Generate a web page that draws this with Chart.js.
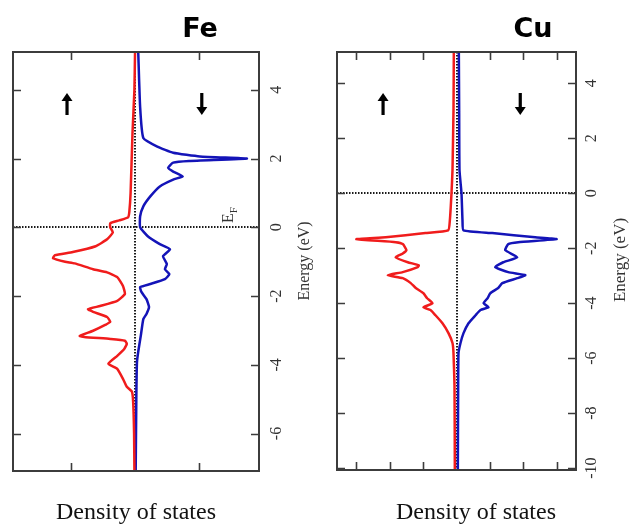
<!DOCTYPE html>
<html>
<head>
<meta charset="utf-8">
<script src="https://cdn.jsdelivr.net/npm/chart.js@4"></script>
<style>
  html, body { margin: 0; padding: 0; background: #ffffff; }
  #wrap { position: relative; width: 630px; height: 529px; overflow: hidden; }
  canvas { position: absolute; top: 0; }
  #fe { left: 0; }
  #cu { left: 320px; }
</style>
</head>
<body>
<div id="wrap">
  <canvas id="fe" width="320" height="529"></canvas>
  <canvas id="cu" width="310" height="529"></canvas>
</div>
<script>
// ---- Fe: spin-resolved density of states (magnitudes; spin-up drawn to the left) ----
const feUpEnergy = [5.1, 4.0, 2.75, 1.0, 0.45, 0.29, 0.2, 0.12, 0.0, -0.15, -0.35, -0.55, -0.72, -0.81, -0.9, -1.0, -1.05, -1.22, -1.31, -1.45, -1.71, -1.94, -2.14, -2.29, -2.38, -2.46, -2.61, -2.75, -2.84, -3.01, -3.16, -3.19, -3.25, -3.3, -3.39, -3.54, -3.74, -3.97, -4.12, -4.41, -4.64, -4.78, -5.07, -6.0, -7.09];
const feUpDos    = [0.0, 0.01, 0.04, 0.07, 0.09, 0.11, 0.25, 0.39, 0.39, 0.35, 0.44, 0.62, 0.98, 1.26, 1.29, 1.1, 0.95, 0.66, 0.44, 0.28, 0.19, 0.16, 0.28, 0.55, 0.74, 0.66, 0.44, 0.39, 0.47, 0.66, 0.87, 0.8, 0.39, 0.16, 0.13, 0.17, 0.28, 0.42, 0.28, 0.19, 0.13, 0.05, 0.03, 0.015, 0.01];

const feDownEnergy = [5.1, 3.5, 2.6, 2.35, 2.17, 2.06, 2.0, 1.93, 1.88, 1.73, 1.62, 1.48, 1.39, 1.19, 0.9, 0.61, 0.32, 0.0, -0.26, -0.49, -0.64, -0.84, -1.07, -1.22, -1.36, -1.51, -1.65, -1.74, -1.88, -2.09, -2.32, -2.52, -2.67, -3.16, -3.62, -3.93, -5.0, -7.09];
const feDownDos    = [0.05, 0.08, 0.13, 0.35, 0.6, 1.02, 1.76, 0.85, 0.6, 0.52, 0.6, 0.75, 0.6, 0.39, 0.24, 0.13, 0.08, 0.08, 0.2, 0.39, 0.55, 0.44, 0.5, 0.47, 0.54, 0.47, 0.24, 0.08, 0.1, 0.18, 0.22, 0.18, 0.13, 0.09, 0.05, 0.03, 0.02, 0.01];

// ---- Cu: spin-resolved density of states ----
const cuUpEnergy = [5.14, 3.0, 0.84, 0.0, -1.0, -1.35, -1.45, -1.6, -1.67, -1.78, -1.85, -2.07, -2.2, -2.33, -2.51, -2.62, -2.69, -2.87, -2.98, -3.09, -3.27, -3.45, -3.64, -3.82, -4.0, -4.15, -4.25, -4.44, -4.73, -5.09, -5.45, -5.82, -7.0, -10.07];
const cuUpDos    = [0.08, 0.09, 0.12, 0.15, 0.2, 0.25, 0.93, 2.12, 3.0, 1.82, 1.61, 1.5, 1.62, 1.82, 1.46, 1.13, 1.16, 1.61, 2.06, 1.61, 1.37, 1.22, 0.99, 0.88, 0.72, 0.99, 0.78, 0.63, 0.42, 0.24, 0.12, 0.09, 0.06, 0.05];

const cuDownEnergy = [5.14, 3.0, 0.84, 0.0, -1.0, -1.35, -1.45, -1.6, -1.67, -1.78, -1.85, -2.07, -2.33, -2.51, -2.69, -2.87, -2.98, -3.09, -3.27, -3.45, -3.64, -3.82, -4.0, -4.15, -4.25, -4.44, -4.73, -5.09, -5.45, -5.82, -7.0, -10.07];
const cuDownDos    = [0.07, 0.08, 0.09, 0.15, 0.18, 0.21, 1.07, 2.36, 3.0, 1.85, 1.55, 1.46, 1.82, 1.4, 1.16, 1.55, 2.06, 1.82, 1.37, 1.25, 1.01, 0.93, 0.81, 0.96, 0.72, 0.57, 0.36, 0.21, 0.12, 0.06, 0.05, 0.04];

// ---- tick values ----
const feEnergyTicks = [4, 2, 0, -2, -4, -6];
const feDosTicks = [-1, 1];
const cuEnergyTicks = [4, 2, 0, -2, -4, -6, -8, -10];
const cuDosTicks = [-3, -2, -1, 1, 2, 3];

const RED = '#f01c1c';
const BLUE = '#1414b8';
const FRAME = '#3c3c3c';
const SERIF = '"Liberation Serif", "Times New Roman", serif';

function curve(energy, dos, sign) {
  return energy.map((e, i) => ({ x: sign * dos[i], y: e }));
}

function drawArrow(ctx, x, yTop, yBot, up) {
  ctx.save();
  ctx.fillStyle = '#000';
  ctx.strokeStyle = '#000';
  ctx.lineWidth = 3.2;
  const head = 8;
  ctx.beginPath();
  if (up) {
    ctx.moveTo(x, yBot); ctx.lineTo(x, yTop + head - 1);
  } else {
    ctx.moveTo(x, yTop); ctx.lineTo(x, yBot - head + 1);
  }
  ctx.stroke();
  ctx.beginPath();
  if (up) {
    ctx.moveTo(x, yTop); ctx.lineTo(x - 5.5, yTop + head); ctx.lineTo(x + 5.5, yTop + head);
  } else {
    ctx.moveTo(x, yBot); ctx.lineTo(x - 5.5, yBot - head); ctx.lineTo(x + 5.5, yBot - head);
  }
  ctx.closePath();
  ctx.fill();
  ctx.restore();
}

// Frame, inward ticks, zero lines and labels for one panel
function panelDecor(cfg) {
  return {
    id: 'panelDecor',
    beforeDatasetsDraw(chart) {
      const { ctx, chartArea: a, scales } = chart;
      const xs = scales.x, ys = scales.y;
      ctx.save();
      ctx.strokeStyle = '#1a1a1a';
      ctx.lineWidth = 2;
      ctx.setLineDash([1.5, 1.5]);
      const y0 = Math.round(ys.getPixelForValue(0));
      const x0 = Math.round(xs.getPixelForValue(0));
      ctx.beginPath();
      ctx.moveTo(a.left, y0); ctx.lineTo(a.right, y0);
      ctx.moveTo(x0, a.top); ctx.lineTo(x0, a.bottom);
      ctx.stroke();
      ctx.restore();
    },
    afterDatasetsDraw(chart) {
      const { ctx, chartArea: a, scales } = chart;
      const xs = scales.x, ys = scales.y;
      ctx.save();
      // frame
      ctx.strokeStyle = FRAME;
      ctx.lineWidth = 2;
      ctx.strokeRect(a.left, a.top, a.right - a.left, a.bottom - a.top);
      // energy ticks on both sides, DOS ticks top and bottom
      ctx.lineWidth = 1.6;
      ctx.beginPath();
      cfg.energyTicks.forEach(v => {
        const y = Math.round(ys.getPixelForValue(v)) + 0.5;
        ctx.moveTo(a.left, y); ctx.lineTo(a.left + 8, y);
        ctx.moveTo(a.right, y); ctx.lineTo(a.right - 8, y);
      });
      cfg.dosTicks.forEach(v => {
        const x = Math.round(xs.getPixelForValue(v)) + 0.5;
        ctx.moveTo(x, a.top); ctx.lineTo(x, a.top + 8);
        ctx.moveTo(x, a.bottom); ctx.lineTo(x, a.bottom - 8);
      });
      ctx.stroke();

      // rotated energy tick labels
      ctx.fillStyle = '#333';
      ctx.font = '16px ' + SERIF;
      ctx.textAlign = 'center';
      ctx.textBaseline = 'middle';
      cfg.energyTicks.forEach(v => {
        const y = ys.getPixelForValue(v);
        ctx.save();
        ctx.translate(a.right + cfg.labelGap, y);
        ctx.rotate(-Math.PI / 2);
        ctx.fillText(String(v), 0, 0);
        ctx.restore();
      });

      // axis title
      ctx.save();
      ctx.font = cfg.titleSize + 'px ' + SERIF;
      ctx.translate(cfg.energyTitleX, cfg.energyTitleY);
      ctx.rotate(-Math.PI / 2);
      ctx.fillText('Energy (eV)', 0, 0);
      ctx.restore();

      // bottom label
      ctx.fillStyle = '#111';
      ctx.font = '24px ' + SERIF;
      ctx.textBaseline = 'alphabetic';
      ctx.fillText('Density of states', cfg.dosTitleX, 519);

      // panel title
      ctx.font = 'bold 27px "DejaVu Sans", sans-serif';
      ctx.fillStyle = '#000';
      ctx.fillText(cfg.title, cfg.titleX, 37);

      // spin arrows
      drawArrow(ctx, xs.getPixelForValue(cfg.upArrowX), 93, 115, true);
      drawArrow(ctx, xs.getPixelForValue(cfg.downArrowX), 93, 115, false);

      // Fermi level label
      if (cfg.fermi) {
        ctx.save();
        ctx.fillStyle = '#333';
        ctx.translate(cfg.fermi[0], cfg.fermi[1]);
        ctx.rotate(-Math.PI / 2);
        ctx.textAlign = 'left';
        ctx.font = '16px ' + SERIF;
        ctx.fillText('E', 0, 0);
        const w = ctx.measureText('E').width;
        ctx.font = '11px ' + SERIF;
        ctx.fillText('F', w, 4);
        ctx.restore();
      }
      ctx.restore();
    }
  };
}

function makePanel(id, up, down, range, padding, cfg) {
  return new Chart(document.getElementById(id), {
    type: 'scatter',
    data: {
      datasets: [
        { data: up, showLine: true, borderColor: RED, borderWidth: 2.5, pointRadius: 0, tension: 0.15 },
        { data: down, showLine: true, borderColor: BLUE, borderWidth: 2.5, pointRadius: 0, tension: 0.15 }
      ]
    },
    options: {
      responsive: false,
      animation: false,
      devicePixelRatio: 1,
      layout: { padding },
      plugins: { legend: { display: false }, tooltip: { enabled: false } },
      scales: {
        x: { type: 'linear', display: false, min: range.xMin, max: range.xMax },
        y: { type: 'linear', display: false, min: range.yMin, max: range.yMax }
      }
    },
    plugins: [panelDecor(cfg)]
  });
}

makePanel('fe',
  curve(feUpEnergy, feUpDos, -1),
  curve(feDownEnergy, feDownDos, 1),
  { xMin: -1.92, xMax: 1.95, yMin: -7.09, yMax: 5.1 },
  { left: 13, right: 61, top: 52, bottom: 58 },
  { energyTicks: feEnergyTicks, dosTicks: feDosTicks, labelGap: 18, titleSize: 16,
    energyTitleX: 305, energyTitleY: 261, dosTitleX: 136, title: 'Fe', titleX: 200,
    upArrowX: -1.07, downArrowX: 1.05, fermi: [233, 223] }
);

makePanel('cu',
  curve(cuUpEnergy, cuUpDos, -1),
  curve(cuDownEnergy, cuDownDos, 1),
  { xMin: -3.58, xMax: 3.58, yMin: -10.07, yMax: 5.14 },
  { left: 17, right: 54, top: 52, bottom: 59 },
  { energyTicks: cuEnergyTicks, dosTicks: cuDosTicks, labelGap: 16, titleSize: 17,
    energyTitleX: 301, energyTitleY: 260, dosTitleX: 156, title: 'Cu', titleX: 213,
    upArrowX: -2.2, downArrowX: 1.91, fermi: null }
);
</script>
</body>
</html>
